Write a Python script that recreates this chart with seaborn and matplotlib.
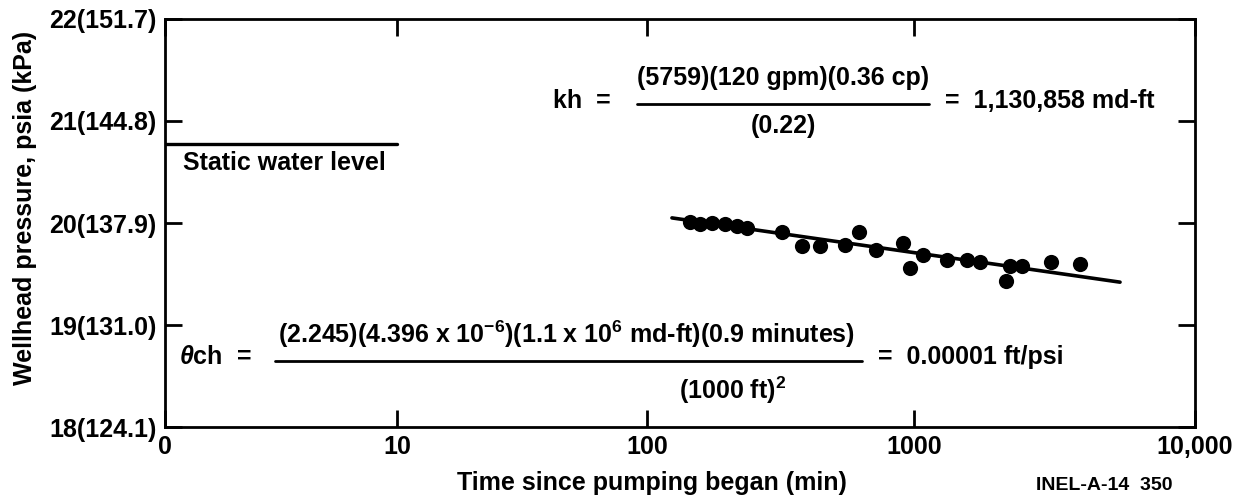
import numpy as np
import pandas as pd
import matplotlib
matplotlib.use("Agg")
import matplotlib.pyplot as plt
import seaborn as sns
from matplotlib.lines import Line2D

# ---------------- data ----------------
time_min = [145, 158, 175, 196, 217, 237, 321, 381, 445, 552, 623, 721,
            910, 966, 1077, 1310, 1545, 1718, 2124, 2197, 2423, 3074, 3900]
pressure_psia = [20.01, 19.99, 20.00, 19.99, 19.97, 19.95, 19.91, 19.77, 19.77,
                 19.78, 19.91, 19.74, 19.80, 19.56, 19.69, 19.64, 19.64, 19.62,
                 19.43, 19.58, 19.58, 19.62, 19.60]
fit_time = [124, 5410]
fit_pressure = [20.05, 19.42]
static_time = [1, 10]
static_pressure = [20.77, 20.77]

x_ticks = [1, 10, 100, 1000, 10000]
x_tick_labels = ["0", "10", "100", "1000", "10,000"]
y_ticks = [18, 19, 20, 21, 22]
y_tick_labels = ["18(124.1)", "19(131.0)", "20(137.9)", "21(144.8)", "22(151.7)"]

# ---------------- style ----------------
sns.set_theme(style="white")
plt.rcParams["font.family"] = ["Liberation Sans", "DejaVu Sans"]
plt.rcParams["font.weight"] = "bold"
plt.rcParams["text.color"] = "black"
plt.rcParams["axes.labelcolor"] = "black"
plt.rcParams["xtick.color"] = "black"
plt.rcParams["ytick.color"] = "black"
plt.rcParams["mathtext.fontset"] = "custom"
plt.rcParams["mathtext.rm"] = "Liberation Sans:bold"
plt.rcParams["mathtext.it"] = "Liberation Sans:italic:bold"
plt.rcParams["mathtext.bf"] = "Liberation Sans:bold"

FS = 18
W, H = 1244, 497
fig = plt.figure(figsize=(W / 100, H / 100), dpi=100)
L, R, T, B = 165, 1195, 19, 427
ax = fig.add_axes([L / W, 1 - B / H, (R - L) / W, (B - T) / H])

# hand-drawn log axis: decade positions (pixels from left edge)
_logpos = [-20, 0, 1, 2, 3, 4, 24]
_px = [-20 * 232, 0, 232, 482, 749, 1030, 1030 + 20 * 281]


def _fwd(x):
    x = np.asarray(x, dtype=float)
    lx = np.log10(np.clip(x, 1e-20, None))
    return np.interp(lx, _logpos, _px)


def _inv(p):
    p = np.asarray(p, dtype=float)
    return 10 ** np.interp(p, _px, _logpos)


ax.set_xscale("function", functions=(_fwd, _inv))

df = pd.DataFrame({"time": time_min, "pressure": pressure_psia})
sns.lineplot(x=fit_time, y=fit_pressure, ax=ax, color="black", linewidth=2.6)
sns.lineplot(x=static_time, y=static_pressure, ax=ax, color="black", linewidth=2.4)
sns.scatterplot(data=df, x="time", y="pressure", ax=ax, color="black",
                s=120, edgecolor="black", linewidth=0, zorder=3)

ax.set_xlim(1, 10000)
ax.set_ylim(18, 22)
ax.set_xticks(x_ticks)
ax.set_xticklabels(x_tick_labels)
ax.set_yticks(y_ticks)
ax.set_yticklabels(y_tick_labels)
ax.minorticks_off()
ax.tick_params(axis="both", which="major", direction="in", length=12, width=2,
               color="black", labelsize=FS, labelcolor="black",
               top=True, right=True, bottom=True, left=True)
ax.tick_params(axis="y", pad=6)
ax.tick_params(axis="x", pad=6)
for sp in ax.spines.values():
    sp.set_visible(True)
    sp.set_color("black")
    sp.set_linewidth(2)
ax.set_xlabel("")
ax.set_ylabel("")
ax.grid(False)

# axis titles
fig.text(25 / W, 1 - 208 / H, "Wellhead pressure, psia (kPa)", rotation=90,
         ha="center", va="center", fontsize=FS, fontweight="bold", color="black")
fig.text(652 / W, 1 - 483 / H, "Time since pumping began (min)",
         ha="center", va="center", fontsize=FS, fontweight="bold", color="black")
fig.text(1104 / W, 1 - 485 / H, "INEL-A-14  350",
         ha="center", va="center", fontsize=14, fontweight="bold", color="black")


# annotations
def ftxt(x, y, s, **kw):
    kw.setdefault("fontsize", FS)
    kw.setdefault("fontweight", "bold")
    kw.setdefault("va", "center")
    kw.setdefault("color", "black")
    return fig.text(x / W, 1 - y / H, s, **kw)


def fline(x0, x1, y, lw=2):
    fig.add_artist(Line2D([x0 / W, x1 / W], [1 - y / H, 1 - y / H],
                          transform=fig.transFigure, color="black", lw=lw))


ftxt(183, 163, "Static water level", ha="left")

ftxt(553, 101, "kh  =", ha="left")
ftxt(783, 78, "(5759)(120 gpm)(0.36 cp)", ha="center")
fline(637, 929, 104)
ftxt(783, 126, "(0.22)", ha="center")
ftxt(945, 101, "=  1,130,858 md-ft", ha="left")

ftxt(179, 357, r"$\theta$ch  =", ha="left")
ftxt(567, 334, r"(2.245)(4.396 x 10$^{-6}$)(1.1 x 10$^{6}$ md-ft)(0.9 minutes)",
     ha="center")
fline(275, 862, 361)
ftxt(733, 390, r"(1000 ft)$^{2}$", ha="center")
ftxt(878, 357, "=  0.00001 ft/psi", ha="left")

fig.savefig("out.png", dpi=100, facecolor="white")
